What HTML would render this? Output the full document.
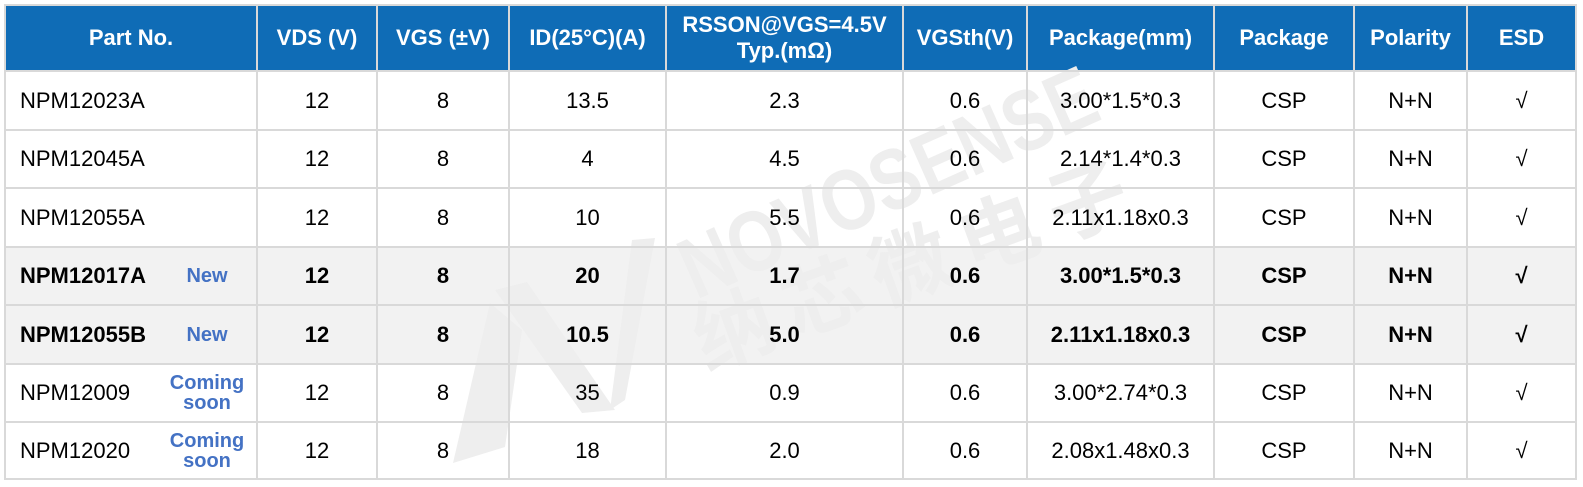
<!DOCTYPE html>
<html><head><meta charset="utf-8">
<style>
html,body{margin:0;padding:0;background:#fff;}
body{width:1583px;height:487px;position:relative;overflow:hidden;font-family:"Liberation Sans",Arial,sans-serif;}
.bg{position:absolute;}
.row{position:absolute;left:5px;display:flex;}
.row>div{display:flex;align-items:center;justify-content:center;font-size:22px;color:#000;text-align:center;position:relative;height:100%;}
.hd>div{color:#fff;font-weight:bold;line-height:26px;}
.b>div{font-weight:bold;}
.w0{width:252px}.w1{width:120px}.w2{width:132px}.w3{width:157px}.w4{width:237px}.w5{width:124px}.w6{width:187px}.w7{width:140px}.w8{width:113px}.w9{width:109px}
.row>div.pn{justify-content:flex-start;}
.pn .nm{position:absolute;left:15px;top:0;height:100%;display:flex;align-items:center;}
.pn .tg{position:absolute;left:162px;width:80px;top:0;height:100%;display:flex;align-items:center;justify-content:center;color:#4472c4;font-weight:bold;font-size:20px;line-height:20px;text-align:center;}
.vl{position:absolute;top:4px;width:2px;height:476px;background:#d9d9d9;}
.hl{position:absolute;left:4px;width:1573px;height:2px;background:#d9d9d9;}
svg{position:absolute;left:0;top:0;}
</style></head><body>
<div class="bg" style="left:5px;top:5px;width:1571px;height:66px;background:#0f6cb6;"></div>
<div class="bg" style="left:5px;top:247px;width:1571px;height:117px;background:#f2f2f2;"></div>

<svg width="1583" height="487" viewBox="0 0 1583 487">
<g fill="#eeeeee">
<polygon points="453,463 505,447 522,330 490,303"/>
<polygon points="495,290 527,282 615,410 582,413"/>
<polygon points="610,410 632,240 655,238 625,400"/>
<text x="0" y="0" transform="translate(696,300) rotate(-24) scale(0.82,1)" font-family="Liberation Sans, sans-serif" font-weight="bold" font-size="86">NOVOSENSE</text>
<text x="0" y="0" transform="translate(706,370) rotate(-20)" font-family="Noto Sans CJK SC, sans-serif" font-weight="bold" font-size="80" letter-spacing="14">纳芯微电子</text>
</g>
</svg>

<div class="vl" style="left:4px"></div>
<div class="vl" style="left:256px"></div>
<div class="vl" style="left:376px"></div>
<div class="vl" style="left:508px"></div>
<div class="vl" style="left:665px"></div>
<div class="vl" style="left:902px"></div>
<div class="vl" style="left:1026px"></div>
<div class="vl" style="left:1213px"></div>
<div class="vl" style="left:1353px"></div>
<div class="vl" style="left:1466px"></div>
<div class="vl" style="left:1575px"></div>

<div class="hl" style="top:4px"></div>
<div class="hl" style="top:70px"></div>
<div class="hl" style="top:129px"></div>
<div class="hl" style="top:187px"></div>
<div class="hl" style="top:246px"></div>
<div class="hl" style="top:304px"></div>
<div class="hl" style="top:363px"></div>
<div class="hl" style="top:421px"></div>
<div class="hl" style="top:478px"></div>

<div class="row hd" style="top:5px;height:66px;">
<div class="w0">Part No.</div><div class="w1">VDS (V)</div><div class="w2">VGS (±V)</div><div class="w3">ID(25°C)(A)</div><div class="w4">RSSON@VGS=4.5V<br>Typ.(mΩ)</div><div class="w5">VGSth(V)</div><div class="w6">Package(mm)</div><div class="w7">Package</div><div class="w8">Polarity</div><div class="w9">ESD</div>
</div>

<div class="row" style="top:71px;height:59px;">
<div class="w0 pn"><span class="nm">NPM12023A</span></div><div class="w1">12</div><div class="w2">8</div><div class="w3">13.5</div><div class="w4">2.3</div><div class="w5">0.6</div><div class="w6">3.00*1.5*0.3</div><div class="w7">CSP</div><div class="w8">N+N</div><div class="w9">√</div>
</div>
<div class="row" style="top:130px;height:58px;">
<div class="w0 pn"><span class="nm">NPM12045A</span></div><div class="w1">12</div><div class="w2">8</div><div class="w3">4</div><div class="w4">4.5</div><div class="w5">0.6</div><div class="w6">2.14*1.4*0.3</div><div class="w7">CSP</div><div class="w8">N+N</div><div class="w9">√</div>
</div>
<div class="row" style="top:188px;height:59px;">
<div class="w0 pn"><span class="nm">NPM12055A</span></div><div class="w1">12</div><div class="w2">8</div><div class="w3">10</div><div class="w4">5.5</div><div class="w5">0.6</div><div class="w6">2.11x1.18x0.3</div><div class="w7">CSP</div><div class="w8">N+N</div><div class="w9">√</div>
</div>
<div class="row b" style="top:247px;height:58px;">
<div class="w0 pn"><span class="nm">NPM12017A</span><span class="tg">New</span></div><div class="w1">12</div><div class="w2">8</div><div class="w3">20</div><div class="w4">1.7</div><div class="w5">0.6</div><div class="w6">3.00*1.5*0.3</div><div class="w7">CSP</div><div class="w8">N+N</div><div class="w9">√</div>
</div>
<div class="row b" style="top:305px;height:59px;">
<div class="w0 pn"><span class="nm">NPM12055B</span><span class="tg">New</span></div><div class="w1">12</div><div class="w2">8</div><div class="w3">10.5</div><div class="w4">5.0</div><div class="w5">0.6</div><div class="w6">2.11x1.18x0.3</div><div class="w7">CSP</div><div class="w8">N+N</div><div class="w9">√</div>
</div>
<div class="row" style="top:364px;height:58px;">
<div class="w0 pn"><span class="nm">NPM12009</span><span class="tg">Coming<br>soon</span></div><div class="w1">12</div><div class="w2">8</div><div class="w3">35</div><div class="w4">0.9</div><div class="w5">0.6</div><div class="w6">3.00*2.74*0.3</div><div class="w7">CSP</div><div class="w8">N+N</div><div class="w9">√</div>
</div>
<div class="row" style="top:422px;height:57px;">
<div class="w0 pn"><span class="nm">NPM12020</span><span class="tg">Coming<br>soon</span></div><div class="w1">12</div><div class="w2">8</div><div class="w3">18</div><div class="w4">2.0</div><div class="w5">0.6</div><div class="w6">2.08x1.48x0.3</div><div class="w7">CSP</div><div class="w8">N+N</div><div class="w9">√</div>
</div>
</body></html>
